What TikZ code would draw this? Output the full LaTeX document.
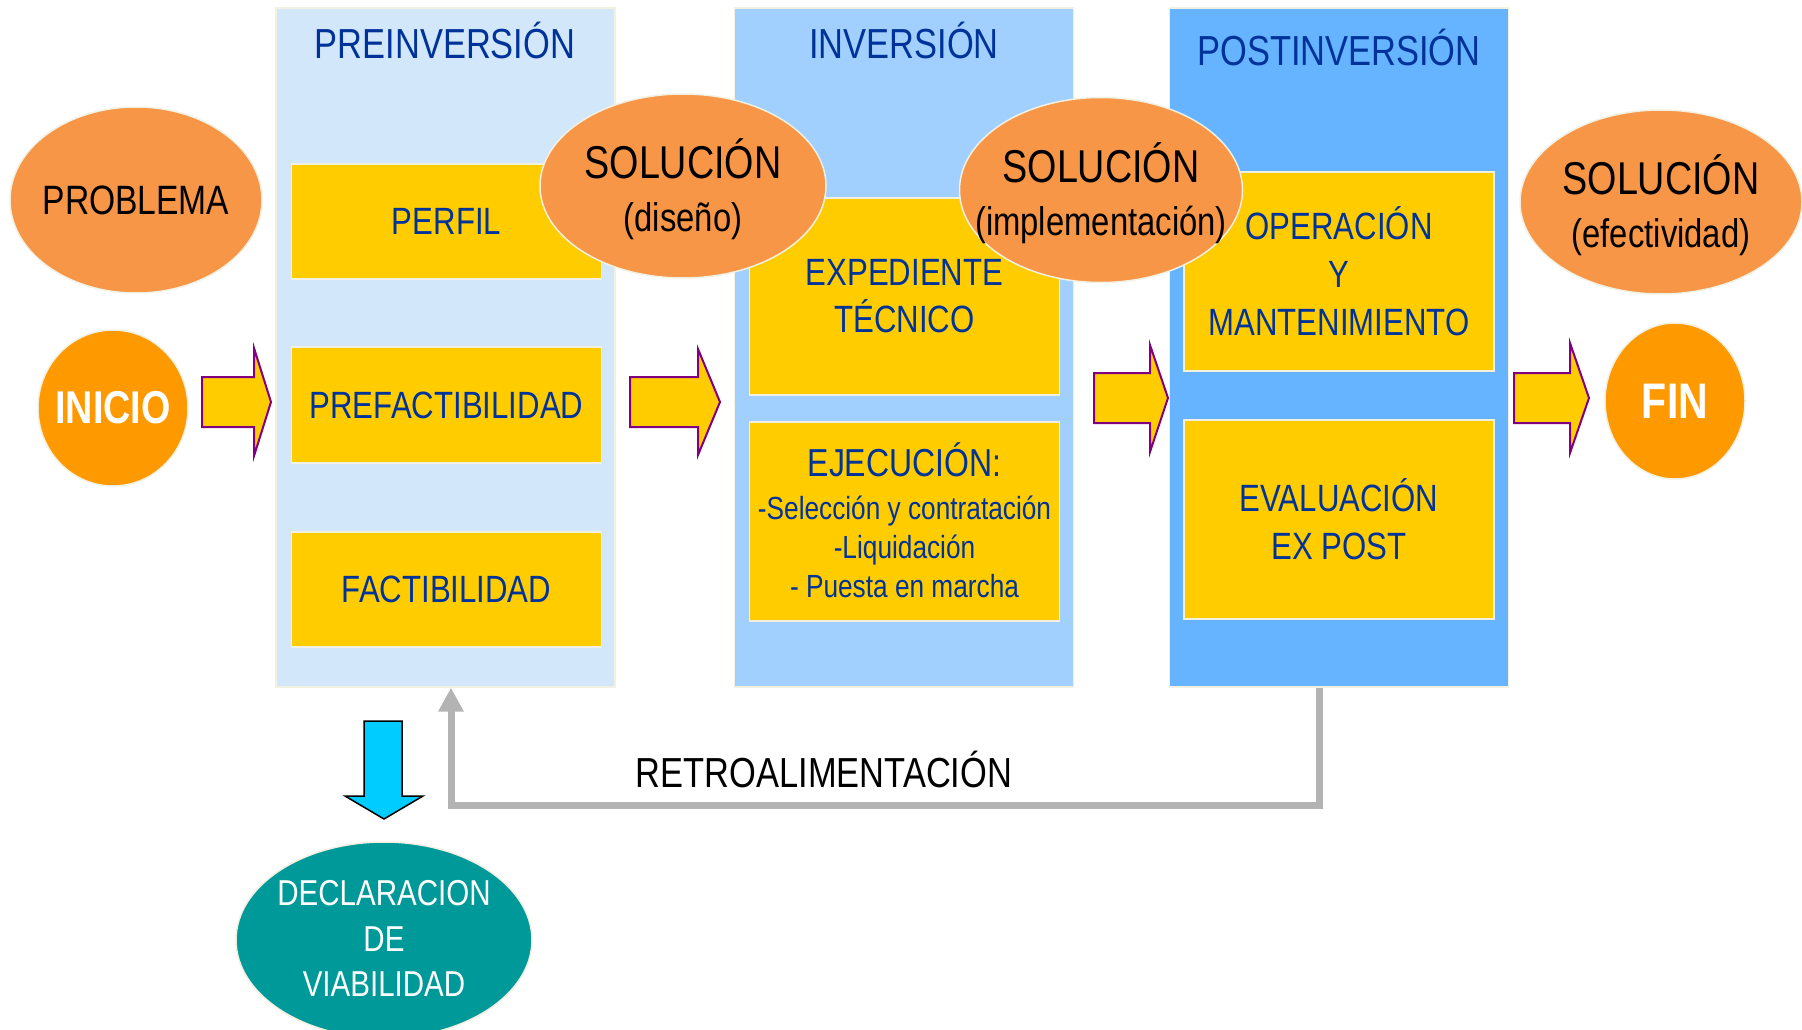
\documentclass[tikz,border=0pt]{standalone}
\usepackage{fontspec}
\setmainfont{Liberation Sans}[FakeStretch=0.82]
\usetikzlibrary{shapes.geometric,arrows.meta}
\definecolor{panA}{HTML}{D3E7FB}
\definecolor{panB}{HTML}{A1CFFE}
\definecolor{panC}{HTML}{66B3FF}
\definecolor{yel}{HTML}{FFCC00}
\definecolor{org}{HTML}{F79646}
\definecolor{dorg}{HTML}{FF9900}
\definecolor{teal2}{HTML}{009999}
\definecolor{tblue}{HTML}{003399}
\definecolor{cyan2}{HTML}{00CCFF}
\definecolor{purp}{HTML}{800080}
\definecolor{fbgray}{HTML}{B3B3B3}
\definecolor{edge}{HTML}{F2F0E0}
\newcommand{\fs}[1]{\fontsize{#1}{#1}\selectfont}
\begin{document}
\begin{tikzpicture}[x=1pt,y=-1pt,
  panel/.style={draw=edge,line width=1.2pt,inner sep=0pt,minimum width=339pt,minimum height=679pt},
  ptitle/.style={text=tblue,font=\fs{42}},
  ybox/.style={draw=edge,line width=1.5pt,fill=yel,inner sep=0pt,minimum width=310pt,text=tblue,align=center,font=\fontsize{38}{47}\selectfont},
  oell/.style={ellipse,draw=edge,line width=1.5pt,fill=org,inner sep=0pt},
  ctext/.style={align=center,inner sep=0pt},
  barrow/.style={fill=yel,draw=purp,line width=2pt,line join=miter},
  fb/.style={draw=fbgray,line width=7pt,-{Triangle[width=24pt,length=24pt]}}
]
\useasboundingbox (0,0) rectangle (1802,1030);
% panels
\node[panel,fill=panA] (p1) at (445.5,347.5) {};
\node[panel,fill=panB] (p2) at (904,347.5) {};
\node[panel,fill=panC] (p3) at (1339,347.5) {};
\node[ptitle] (t1) at (445,40.5) {PREINVERSIÓN};
\node[ptitle] (t2) at (904,40.5) {INVERSIÓN};
\node[ptitle] (t3) at (1339,47.5) {POSTINVERSIÓN};
% yellow boxes
\node[ybox,minimum height=115pt] (perfil) at (446.5,221.5) {PERFIL};
\node[ybox,minimum height=116pt] (prefac) at (446.5,405) {PREFACTIBILIDAD};
\node[ybox,minimum height=115pt] (fact) at (446.5,589.5) {FACTIBILIDAD};
\node[ybox,minimum height=197pt] (exped) at (904.5,296.5) {EXPEDIENTE\\TÉCNICO};
\node[ybox,minimum height=199pt] (ejec) at (904.5,521.5) {};
\node[ctext,text=tblue,font=\fontsize{32}{39}\selectfont] (eject) at (904.5,520) {{\fs{39}EJECUCIÓN:}\\[4pt]-Selección y contratación\\-Liquidación\\- Puesta en marcha};
\node[ybox,minimum height=199pt,font=\fontsize{38}{48}\selectfont] (oper) at (1339,271.5) {OPERACIÓN\\Y\\MANTENIMIENTO};
\node[ybox,minimum height=199pt,font=\fontsize{38}{48}\selectfont] (eval) at (1339,519.5) {EVALUACIÓN\\EX POST};
% ellipses
\node[oell,minimum width=252pt,minimum height=186pt] (prob) at (136,200) {};
\node[ctext,font=\fs{41}] (probt) at (prob) {PROBLEMA};
\node[oell,minimum width=286pt,minimum height=184pt] (sol1) at (683,186) {};
\node[ctext,font=\fontsize{40}{53}\selectfont] (sol1t) at (683,189) {{\fs{46}SOLUCIÓN}\\(diseño)};
\node[oell,minimum width=283pt,minimum height=185pt] (sol2) at (1101,190) {};
\node[ctext,font=\fontsize{40}{53}\selectfont] (sol2t) at (1101,193) {{\fs{46}SOLUCIÓN}\\(implementación)};
\node[oell,minimum width=282pt,minimum height=184pt] (sol3) at (1661,202) {};
\node[ctext,font=\fontsize{40}{53}\selectfont] (sol3t) at (1661,205) {{\fs{46}SOLUCIÓN}\\(efectividad)};
\node[ellipse,draw=edge,line width=1.5pt,fill=dorg,minimum width=150pt,minimum height=156pt,inner sep=0pt] (inicio) at (113,408) {};
\node[ctext,text=white,font=\bfseries\fs{46}] (iniciot) at (inicio) {INICIO};
\node[ellipse,draw=edge,line width=1.5pt,fill=dorg,minimum width=140pt,minimum height=156pt,inner sep=0pt] (fin) at (1675,401) {};
\node[ctext,text=white,font=\bfseries\fs{50}] (fint) at (fin) {FIN};
\node[ellipse,draw=edge,line width=1.5pt,fill=teal2,minimum width=296pt,minimum height=196pt,inner sep=0pt] (decl) at (384,940) {};
\node[ctext,text=white,font=\fontsize{36}{45.5}\selectfont] (declt) at (384,938.5) {DECLARACION\\DE\\VIABILIDAD};
% block arrows
\draw[barrow] (202,377) -- (254,377) -- (254,348) -- (271,402) -- (254,456) -- (254,427) -- (202,427) -- cycle;
\draw[barrow] (630,377) -- (698,377) -- (698,349) -- (720,402) -- (698,455) -- (698,427) -- (630,427) -- cycle;
\draw[barrow] (1094,373) -- (1150,373) -- (1150,345) -- (1168,398) -- (1150,452) -- (1150,423) -- (1094,423) -- cycle;
\draw[barrow] (1514,373) -- (1570,373) -- (1570,343) -- (1589,398) -- (1570,453) -- (1570,423) -- (1514,423) -- cycle;
% down arrow
\draw[fill=cyan2,draw=black,line width=1.5pt] (364,721) -- (402,721) -- (402,796) -- (423,796) -- (384,819) -- (345,796) -- (364,796) -- cycle;
% feedback
\draw[fb] ([xshift=-20pt]p3.south) -- ++(0,118) -| ([xshift=5.5pt]p1.south);
\node[ctext,font=\fs{42}] (retro) at (824,769.5) {RETROALIMENTACIÓN};
\end{tikzpicture}
\end{document}
